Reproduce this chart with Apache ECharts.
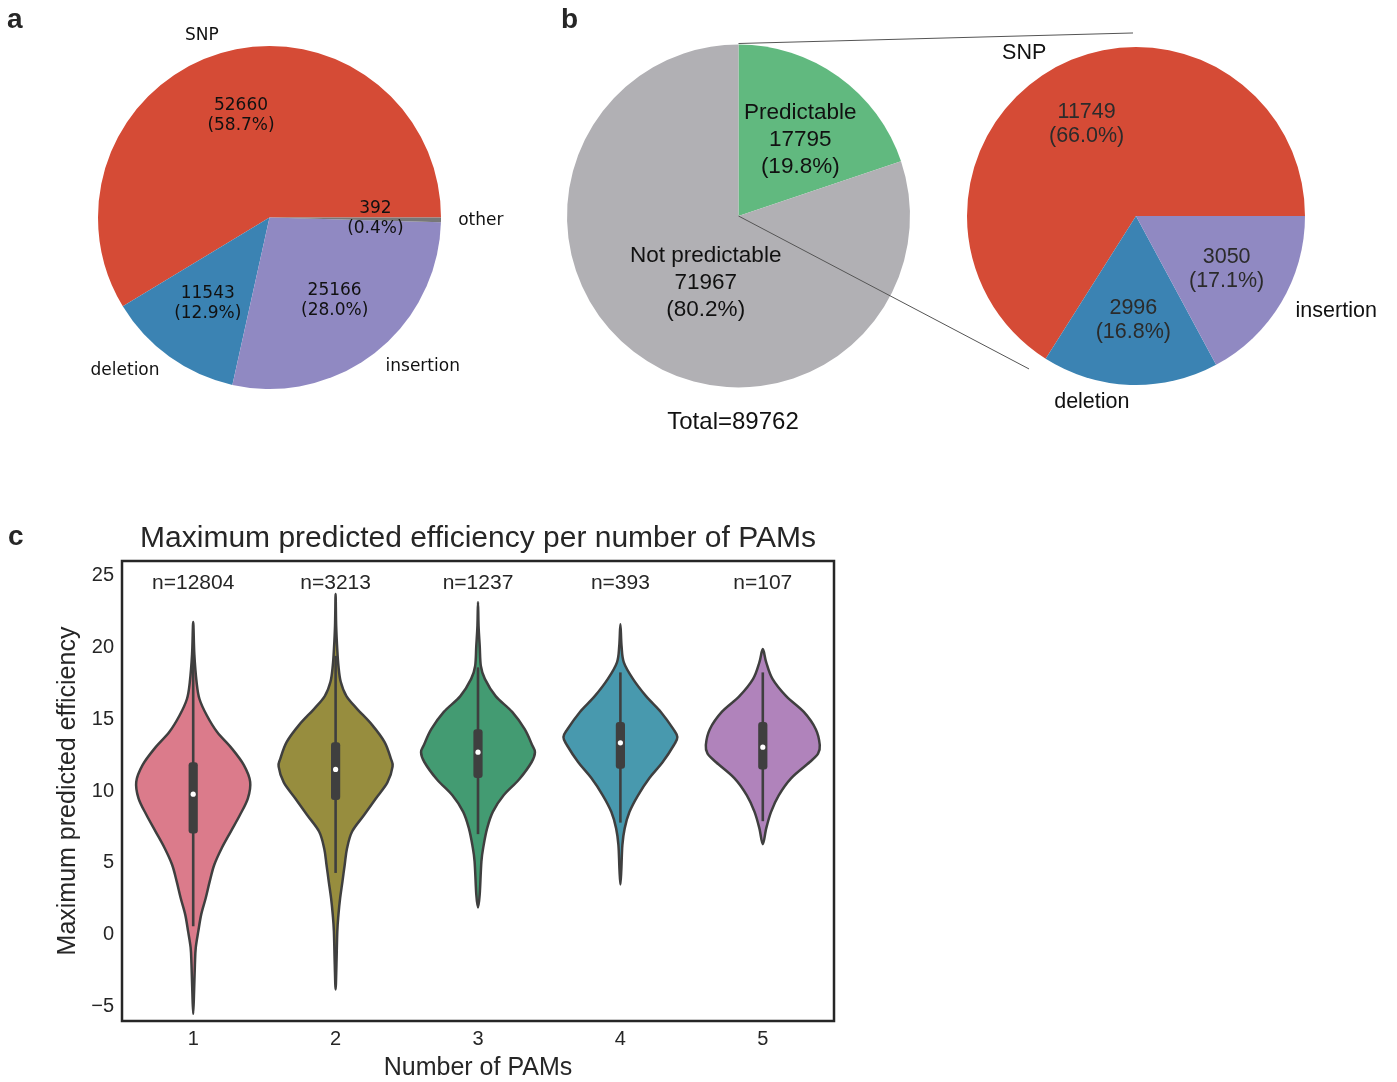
<!DOCTYPE html>
<html>
<head>
<meta charset="utf-8">
<script src="https://cdn.jsdelivr.net/npm/echarts@6/dist/echarts.min.js"></script>
<style>
  html, body { margin: 0; padding: 0; background: #ffffff; }
  #chart { width: 1397px; height: 1082px; }
</style>
</head>
<body>
<div id="chart"></div>
<script>
// ---- panel a: all variants by type ----
const variantTypes = ['SNP', 'deletion', 'insertion', 'other'];
const variantCounts = [52660, 11543, 25166, 392];
const variantColors = ['#d54b36', '#3b83b3', '#9089c2', '#777777'];

// ---- panel b: predictable vs not, and the predictable ones by type ----
const predictClasses = ['Predictable', 'Not predictable'];
const predictCounts = [17795, 71967];
const predictColors = ['#61b97f', '#b1b0b4'];
const predictableTypes = ['SNP', 'deletion', 'insertion'];
const predictableCounts = [11749, 2996, 3050];

// ---- panel c: max predicted efficiency per number of PAMs ----
const pamCounts = ['1', '2', '3', '4', '5'];
const sampleSizes = [12804, 3213, 1237, 393, 107];
const yTicks = [-5, 0, 5, 10, 15, 20, 25];
const violinColors = ['#db7b8b', '#978d3e', '#439b72', '#4899ae', '#b083bb'];

// density profiles: [efficiency, relative density], top to bottom
const densityPam1 = [
  [21.75, 0], [19.5, 0.02], [17.56, 0.06], [16.4, 0.11], [15.25, 0.24], [14.1, 0.42],
  [12.95, 0.68], [11.8, 0.89], [10.64, 1.0], [9.49, 0.96], [8.33, 0.82], [7.18, 0.66],
  [6.02, 0.50], [4.87, 0.37], [3.71, 0.29], [2.56, 0.22], [1.4, 0.14], [0.25, 0.09],
  [-0.9, 0.045], [-2.06, 0.03], [-4.0, 0.015], [-5.5, 0]
];
const densityPam2 = [
  [23.7, 0], [21.5, 0.01], [19.8, 0.03], [18.7, 0.05], [17.6, 0.09], [16.6, 0.19],
  [15.7, 0.38], [14.6, 0.64], [13.4, 0.86], [12.25, 0.97], [11.7, 1.0], [10.6, 0.91],
  [9.5, 0.71], [8.33, 0.50], [7.18, 0.29], [6.0, 0.20], [4.87, 0.16], [3.7, 0.12],
  [2.56, 0.08], [1.4, 0.05], [0.25, 0.03], [-2.06, 0.015], [-3.8, 0]
];
const densityPam3 = [
  [23.15, 0], [21.5, 0.01], [20.1, 0.03], [18.7, 0.05], [17.8, 0.12], [16.6, 0.31],
  [15.5, 0.60], [14.3, 0.82], [13.2, 0.95], [12.7, 1.0], [12.0, 0.94], [10.8, 0.72],
  [9.7, 0.45], [8.55, 0.26], [7.4, 0.16], [6.25, 0.10], [5.1, 0.06], [2.8, 0.03], [1.9, 0]
];
const densityPam4 = [
  [21.6, 0], [20.1, 0.02], [18.95, 0.06], [17.8, 0.22], [16.6, 0.45], [15.5, 0.71],
  [14.3, 0.93], [13.75, 1.0], [13.2, 0.94], [12.0, 0.74], [10.9, 0.51], [9.7, 0.31],
  [8.55, 0.16], [7.4, 0.075], [6.25, 0.035], [4.6, 0.017], [3.5, 0]
];
const densityPam5 = [
  [19.87, 0], [18.95, 0.06], [17.8, 0.17], [16.6, 0.41], [15.5, 0.72], [14.3, 0.93],
  [13.2, 1.0], [12.6, 0.97], [12.0, 0.82], [10.9, 0.50], [9.7, 0.28], [8.55, 0.145],
  [7.4, 0.06], [6.3, 0]
];
// [lower whisker, q1, median, q3, upper whisker]
const boxStats = [
  [0.6, 7.05, 9.78, 12.0, 19.4],
  [4.3, 9.37, 11.5, 13.4, 19.4],
  [7.0, 10.9, 12.7, 14.3, 18.6],
  [7.8, 11.55, 13.35, 14.8, 18.25],
  [7.9, 11.5, 13.05, 14.8, 18.25]
];

const violinDensities = [densityPam1, densityPam2, densityPam3, densityPam4, densityPam5];

// ---- helpers ----
const sum = arr => arr.reduce((a, b) => a + b, 0);
const pct = (v, arr) => (v / sum(arr) * 100).toFixed(1);
const toItems = (names, values, colors) =>
  names.map((n, i) => ({ name: n, value: values[i], itemStyle: colors ? { color: colors[i] } : undefined }));

const INK = '#262626';
const SANS = '"Liberation Sans", Arial, Helvetica, sans-serif';
const DEJAVU = '"DejaVu Sans", sans-serif';

// pie geometry (px)
const pieA = { center: [269.5, 217.5], r: 171.5 };
const pieB = { center: [738.5, 216], r: 171.5 };
const pieB2 = { center: [1136, 216], r: 169 };

function mainPie(geo, names, values, colors, startAngle, clockwise, font, size, withNames) {
  return {
    type: 'pie', center: geo.center, radius: [0, geo.r],
    startAngle: startAngle, clockwise: clockwise, avoidLabelOverlap: false,
    silent: true, animation: false,
    itemStyle: { borderWidth: 0 },
    label: {
      show: withNames, position: 'outside', formatter: '{b}',
      fontFamily: font, fontSize: size, color: '#111', distanceToLabelLine: 0
    },
    labelLine: { show: false, length: geo.r * 0.1, length2: 0 },
    data: toItems(names, values, colors)
  };
}

// transparent pie whose inside labels land at the given fraction of the radius
function labelPie(geo, names, values, startAngle, clockwise, frac, font, size, lh, color, fmt, shown, pad) {
  return {
    type: 'pie', center: geo.center, radius: [0, geo.r * frac * 2],
    startAngle: startAngle, clockwise: clockwise, avoidLabelOverlap: false,
    silent: true, animation: false, z: 5,
    itemStyle: { color: 'rgba(0,0,0,0)', borderWidth: 0 },
    label: {
      position: 'inside', formatter: fmt, fontFamily: font, fontSize: size,
      lineHeight: lh, color: color, align: 'center', padding: pad || 0
    },
    labelLine: { show: false },
    data: names.map((n, i) => ({
      name: n, value: values[i],
      label: { show: shown ? shown.indexOf(i) >= 0 : true }
    }))
  };
}

// closed Catmull-Rom outline through the points, as an SVG path string
function closedSplinePath(pts) {
  const n = pts.length;
  const P = k => pts[(k + n) % n];
  let d = 'M' + pts[0][0].toFixed(2) + ' ' + pts[0][1].toFixed(2);
  for (let k = 0; k < n; k++) {
    const p0 = P(k - 1), p1 = P(k), p2 = P(k + 1), p3 = P(k + 2);
    const c1 = [p1[0] + (p2[0] - p0[0]) / 6, p1[1] + (p2[1] - p0[1]) / 6];
    const c2 = [p2[0] - (p3[0] - p1[0]) / 6, p2[1] - (p3[1] - p1[1]) / 6];
    d += 'C' + c1[0].toFixed(2) + ' ' + c1[1].toFixed(2) + ' ' +
      c2[0].toFixed(2) + ' ' + c2[1].toFixed(2) + ' ' +
      p2[0].toFixed(2) + ' ' + p2[1].toFixed(2);
  }
  return d + 'Z';
}

function renderViolin(params, api) {
  const i = params.dataIndex;
  const prof = violinDensities[i];
  const halfMax = api.size([1, 0])[0] * 0.4;
  const cx = api.coord([i, 0])[0];
  const py = v => api.coord([i, v])[1];
  const right = prof.map(p => [cx + p[1] * halfMax, py(p[0])]);
  const left = prof.slice(1, -1).reverse().map(p => [cx - p[1] * halfMax, py(p[0])]);
  const s = boxStats[i];
  return {
    type: 'group',
    children: [
      {
        type: 'path', shape: { pathData: closedSplinePath(right.concat(left)) },
        style: { fill: violinColors[i], stroke: '#3f3f3f', lineWidth: 2.5, lineJoin: 'round' }
      },
      {
        type: 'line', shape: { x1: cx, y1: py(s[0]), x2: cx, y2: py(s[4]) },
        style: { stroke: '#3f3f3f', lineWidth: 2.6 }
      },
      {
        type: 'rect', shape: { x: cx - 4.6, y: py(s[3]), width: 9.2, height: py(s[1]) - py(s[3]), r: 3 },
        style: { fill: '#3f3f3f' }
      },
      {
        type: 'circle', shape: { cx: cx, cy: py(s[2]), r: 2.6 },
        style: { fill: '#ffffff' }
      }
    ]
  };
}

const chart = echarts.init(document.getElementById('chart'), null, { renderer: 'canvas' });

const option = {
  backgroundColor: '#ffffff',
  animation: false,
  graphic: [
    { type: 'text', x: 7, y: 20, style: { text: 'a', font: 'bold 28px ' + SANS, fill: INK, verticalAlign: 'middle' } },
    { type: 'text', x: 561, y: 20, style: { text: 'b', font: 'bold 28px ' + SANS, fill: INK, verticalAlign: 'middle' } },
    { type: 'text', x: 8, y: 537, style: { text: 'c', font: 'bold 28px ' + SANS, fill: INK, verticalAlign: 'middle' } },
    {
      type: 'text', x: 478, y: 539,
      style: { text: 'Maximum predicted efficiency per number of PAMs', font: '30px ' + SANS, fill: INK, align: 'center', verticalAlign: 'middle' }
    },
    {
      type: 'text', x: 733, y: 422,
      style: { text: 'Total=' + sum(predictCounts), font: '24px ' + SANS, fill: '#111', align: 'center', verticalAlign: 'middle' }
    },
    // zoom-out connectors from the predictable wedge to the breakdown pie
    {
      type: 'line', z: 10,
      shape: { x1: pieB.center[0], y1: pieB.center[1] - pieB.r - 1, x2: pieB2.center[0] - 3, y2: pieB2.center[1] - pieB2.r * 1.083 },
      style: { stroke: '#555', lineWidth: 1 }
    },
    {
      type: 'line', z: 10,
      shape: { x1: pieB.center[0], y1: pieB.center[1], x2: pieB2.center[0] - pieB2.r * 0.633, y2: pieB2.center[1] + pieB2.r * 0.905 },
      style: { stroke: '#555', lineWidth: 1 }
    }
  ],
  grid: {
    left: 122, right: 1397 - 834, top: 561, bottom: 57,
    show: true, borderColor: INK, borderWidth: 2.5, backgroundColor: 'rgba(0,0,0,0)'
  },
  xAxis: [
    {
      type: 'category', data: pamCounts, position: 'bottom',
      axisLine: { show: false }, axisTick: { show: false }, splitLine: { show: false },
      axisLabel: { fontFamily: SANS, fontSize: 20, color: INK, margin: 8 },
      name: 'Number of PAMs', nameLocation: 'middle', nameGap: 35,
      nameTextStyle: { fontFamily: SANS, fontSize: 25, color: INK }
    },
    {
      type: 'category', data: sampleSizes.map(n => 'n=' + n), position: 'top',
      axisLine: { show: false }, axisTick: { show: false }, splitLine: { show: false },
      axisLabel: { inside: true, fontFamily: SANS, fontSize: 21, color: INK, margin: 12 }
    }
  ],
  yAxis: {
    type: 'value', min: -6, max: 26,
    axisLine: { show: false }, axisTick: { show: false }, splitLine: { show: false },
    axisLabel: {
      customValues: yTicks, fontFamily: SANS, fontSize: 20, color: INK, margin: 8,
      formatter: v => String(v).replace('-', '\u2212')
    },
    name: 'Maximum predicted efficiency', nameLocation: 'middle', nameGap: 38,
    nameTextStyle: { fontFamily: SANS, fontSize: 25, color: INK }
  },
  series: [
    // panel a
    mainPie(pieA, variantTypes, variantCounts, variantColors, 0, false, DEJAVU, 17, true),
    labelPie(pieA, variantTypes, variantCounts, 0, false, 0.6, DEJAVU, 17, 20, '#111',
      p => p.value + '\n(' + pct(p.value, variantCounts) + '%)'),
    // panel b, left
    mainPie(pieB, predictClasses, predictCounts, predictColors, 90, true, SANS, 22.5, false),
    labelPie(pieB, predictClasses, predictCounts, 90, true, 0.53, SANS, 22.5, 27, '#111',
      p => p.name + '\n' + p.value + '\n(' + pct(p.value, predictCounts) + '%)', [0], [0, 0, 0, 14]),
    labelPie(pieB, predictClasses, predictCounts, 90, true, 0.46, SANS, 22.5, 27, '#111',
      p => p.name + '\n' + p.value + '\n(' + pct(p.value, predictCounts) + '%)', [1], [0, 0, 0, 30]),
    // panel b, right
    mainPie(pieB2, predictableTypes, predictableCounts, variantColors, 0, false, SANS, 21.5, true),
    labelPie(pieB2, predictableTypes, predictableCounts, 0, false, 0.6, SANS, 21.5, 24, '#2b2b2b',
      p => p.value + '\n(' + pct(p.value, predictableCounts) + '%)', null, [0, 0, 0, 2]),
    // panel c
    {
      type: 'custom', xAxisIndex: 0, yAxisIndex: 0, silent: true,
      renderItem: renderViolin,
      encode: { x: 0, y: 1 },
      data: pamCounts.map((c, i) => [i, boxStats[i][2]]),
      z: 3
    }
  ]
};

chart.setOption(option);
</script>
</body>
</html>
